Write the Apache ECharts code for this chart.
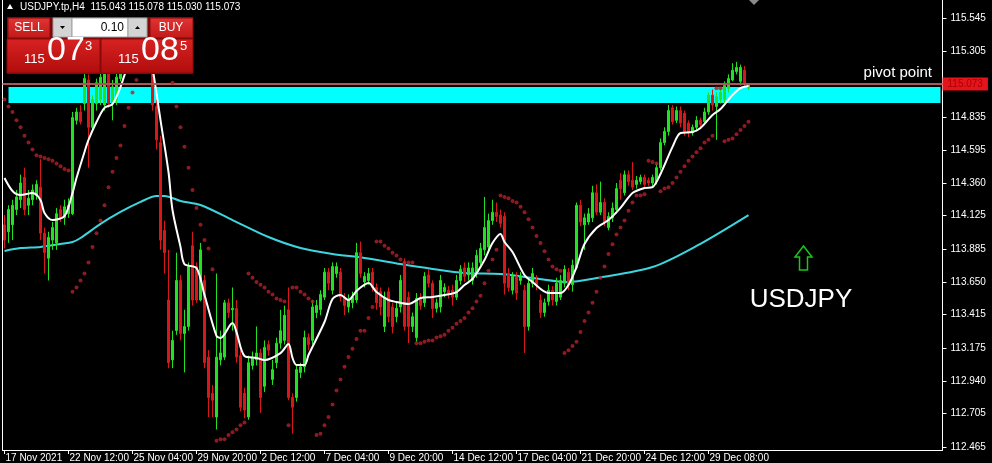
<!DOCTYPE html>
<html><head><meta charset="utf-8">
<script src="https://cdn.jsdelivr.net/npm/echarts/dist/echarts.min.js"></script>
<style>html,body{margin:0;padding:0;background:#000;}#c{width:992px;height:463px;}</style>
</head><body><div id="c"></div>
<script>
const xTickLabels = ['17 Nov 2021','22 Nov 12:00','25 Nov 04:00','29 Nov 20:00','2 Dec 12:00','7 Dec 04:00','9 Dec 20:00','14 Dec 12:00','17 Dec 04:00','21 Dec 20:00','24 Dec 12:00','29 Dec 08:00'];
const yTickValues = [112.465,112.705,112.940,113.175,113.415,113.650,113.885,114.125,114.360,114.595,114.835,115.305,115.545];

const opens = [114.06,114.01,114.06,114.17,114.24,114.40,114.20,114.24,114.27,114.33,
114.00,113.82,113.95,113.93,114.17,114.11,114.14,114.14,114.81,114.87,
114.93,115.10,114.76,114.93,114.96,114.92,115.15,114.93,114.96,115.11,
115.21,115.32,115.24,115.35,115.42,115.33,115.40,115.24,114.91,114.65,
114.02,113.52,113.09,113.30,113.66,113.28,113.33,113.91,113.76,113.52,
113.66,113.11,112.85,112.68,113.09,113.11,113.50,113.45,113.46,113.12,
112.85,112.68,113.05,113.09,113.14,112.90,113.20,112.95,113.07,113.21,
113.23,113.45,112.82,112.82,113.00,113.04,113.25,113.23,113.43,113.45,
113.54,113.72,113.59,113.71,113.72,113.54,113.47,113.50,113.52,113.86,
113.65,113.66,113.72,113.61,113.58,113.33,113.58,113.47,113.40,113.47,
113.79,113.54,113.33,113.25,113.53,113.50,113.70,113.64,113.46,113.47,
113.58,113.59,113.59,113.54,113.66,113.75,113.70,113.66,113.71,113.79,
113.88,113.90,114.09,114.15,114.13,114.12,113.71,113.59,113.69,113.66,
113.59,113.33,113.64,113.66,113.52,113.43,113.51,113.59,113.51,113.54,
113.64,113.72,113.63,113.75,114.20,114.06,114.08,114.11,114.29,114.15,
114.22,114.04,114.11,114.17,114.38,114.29,114.42,114.38,114.35,114.37,
114.40,114.38,114.36,114.37,114.47,114.65,114.73,114.90,114.81,114.88,
114.86,114.79,114.72,114.76,114.81,114.80,114.87,114.99,114.91,114.96,
114.96,115.04,115.10,115.16,115.09,115.17,115.043];

const closes = [113.95,114.17,114.20,114.26,114.36,114.17,114.25,114.31,114.35,114.00,
113.86,113.97,114.04,114.14,114.11,114.19,114.20,114.83,114.87,114.80,
115.11,114.76,114.96,115.08,115.12,115.15,114.93,115.05,115.12,115.23,
115.32,115.24,115.37,115.42,115.33,115.40,115.28,114.92,114.67,113.95,
113.86,113.07,113.23,113.66,113.28,113.33,113.76,113.52,113.52,113.88,
113.07,112.82,112.80,113.11,113.14,113.50,113.43,113.46,113.11,112.75,
112.73,113.07,113.11,113.14,112.82,113.18,113.16,113.02,113.21,113.30,
113.41,112.82,112.75,113.02,113.04,113.25,113.20,113.47,113.48,113.56,
113.72,113.64,113.76,113.76,113.54,113.48,113.52,113.54,113.86,113.71,
113.69,113.71,113.61,113.50,113.47,113.54,113.40,113.33,113.46,113.66,
113.33,113.33,113.40,113.53,113.48,113.69,113.64,113.46,113.50,113.66,
113.61,113.57,113.54,113.66,113.74,113.69,113.75,113.75,113.84,113.89,
114.04,114.09,114.15,114.12,114.07,113.64,113.61,113.69,113.57,113.69,
113.33,113.64,113.71,113.63,113.43,113.50,113.59,113.52,113.64,113.66,
113.74,113.63,113.77,114.20,114.08,114.11,114.14,114.29,114.15,114.22,
114.08,114.12,114.18,114.32,114.32,114.42,114.37,114.33,114.38,114.40,
114.35,114.36,114.40,114.47,114.65,114.73,114.88,114.80,114.88,114.79,
114.73,114.72,114.76,114.81,114.78,114.87,114.99,114.92,114.98,115.01,
115.06,115.11,115.17,115.19,115.19,115.07,115.073];

const lows = [113.89,113.93,113.95,114.13,114.18,114.13,114.13,114.20,114.24,113.95,
113.71,113.66,113.88,113.88,114.08,114.06,114.11,114.13,114.78,114.78,
114.88,114.47,114.74,114.88,114.92,114.88,114.90,114.81,114.92,115.09,
115.17,115.19,115.21,115.32,115.28,115.28,115.24,114.88,114.60,113.88,
113.71,113.03,113.03,113.27,113.23,113.00,113.30,113.48,113.50,113.51,
113.03,112.68,112.68,112.59,113.05,113.09,113.39,113.30,113.07,112.72,
112.67,112.66,113.02,113.05,112.71,112.86,113.12,112.91,113.03,113.17,
113.20,112.80,112.56,112.79,112.96,113.00,113.16,113.20,113.39,113.41,
113.52,113.59,113.56,113.68,113.51,113.41,113.43,113.46,113.50,113.68,
113.61,113.63,113.58,113.45,113.41,113.29,113.36,113.28,113.36,113.43,
113.30,113.21,113.29,113.22,113.45,113.47,113.61,113.39,113.43,113.43,
113.54,113.53,113.48,113.52,113.63,113.65,113.66,113.63,113.68,113.77,
113.84,113.88,114.06,114.08,114.04,113.56,113.58,113.56,113.52,113.63,
113.14,113.30,113.61,113.59,113.39,113.40,113.48,113.48,113.48,113.52,
113.61,113.59,113.58,113.74,114.05,113.88,114.06,114.08,114.13,114.13,
114.05,114.02,114.08,114.14,114.24,114.27,114.34,114.31,114.32,114.35,
114.32,114.34,114.34,114.35,114.45,114.63,114.70,114.78,114.79,114.76,
114.70,114.69,114.70,114.73,114.76,114.78,114.85,114.88,114.67,114.93,
114.92,115.01,115.09,115.14,115.06,115.05,115.030];

const highs = [114.13,114.20,114.24,114.31,114.42,114.47,114.31,114.35,114.38,114.53,
114.04,114.01,114.08,114.18,114.20,114.24,114.25,114.87,114.90,114.92,
115.17,115.14,114.99,115.11,115.16,115.19,115.17,115.10,115.17,115.28,
115.37,115.39,115.42,115.49,115.47,115.46,115.44,115.30,114.96,114.70,
114.09,113.88,113.30,113.86,113.70,113.45,113.79,114.01,113.79,113.93,
113.70,113.16,112.91,113.71,113.30,113.52,113.53,113.61,113.52,113.16,
112.89,113.12,113.15,113.33,113.17,113.23,113.23,113.09,113.25,113.45,
113.48,113.61,112.85,113.05,113.07,113.30,113.28,113.52,113.52,113.59,
113.75,113.75,113.79,113.79,113.75,113.57,113.56,113.58,113.93,113.94,
113.72,113.75,113.75,113.64,113.61,113.58,113.61,113.50,113.50,113.70,
113.82,113.58,113.43,113.57,113.57,113.72,113.74,113.66,113.53,113.70,
113.64,113.62,113.63,113.70,113.77,113.79,113.79,113.79,113.88,113.93,
114.26,114.14,114.24,114.22,114.17,114.15,113.75,113.72,113.72,113.72,
113.63,113.68,113.75,113.70,113.56,113.53,113.63,113.62,113.68,113.70,
113.77,113.75,113.81,114.22,114.24,114.14,114.18,114.34,114.35,114.37,
114.25,114.15,114.22,114.36,114.43,114.45,114.45,114.51,114.41,114.42,
114.42,114.40,114.42,114.50,114.68,114.76,114.92,114.92,114.91,114.91,
114.88,114.81,114.78,114.84,114.83,114.90,115.01,115.03,115.01,115.04,
115.09,115.14,115.22,115.23,115.21,115.20,115.078];

const sar = [114.96,114.91,114.87,114.81,114.76,114.70,114.65,114.60,114.56,114.55,
114.54,114.53,114.52,114.50,114.48,114.46,114.45,113.58,113.61,113.66,
113.71,113.79,113.90,114.00,114.09,114.20,114.33,114.44,114.54,114.63,
114.77,114.90,115.01,115.10,115.19,115.27,115.33,115.49,115.46,115.40,
115.32,115.21,115.08,114.91,114.76,114.62,114.47,114.31,114.18,114.06,
113.95,113.89,113.74,112.51,112.52,112.52,112.55,112.57,112.59,112.62,
112.64,113.71,113.68,113.65,113.63,113.61,113.58,113.56,113.53,113.52,
113.51,112.62,113.61,113.61,113.58,113.56,113.53,113.51,112.55,112.56,
112.62,112.68,112.77,112.87,112.95,113.04,113.11,113.17,113.24,113.30,
113.30,113.39,113.47,113.94,113.94,113.91,113.89,113.86,113.84,113.81,
113.79,113.79,113.79,113.21,113.21,113.22,113.23,113.23,113.25,113.26,
113.27,113.30,113.32,113.35,113.37,113.39,113.43,113.46,113.51,113.55,
113.64,113.73,113.81,113.88,114.27,114.26,114.25,114.23,114.22,114.19,
114.15,114.10,114.04,113.98,113.93,113.87,113.81,113.76,113.74,113.73,
113.14,113.16,113.19,113.22,113.29,113.37,113.43,113.50,113.58,113.68,
113.76,113.85,113.92,113.99,114.04,114.09,114.16,114.22,114.27,114.27,
114.28,114.52,114.51,114.50,114.30,114.32,114.33,114.36,114.40,114.44,
114.48,114.52,114.55,114.58,114.61,114.65,114.67,114.70,115.04,115.04,
114.66,114.67,114.68,114.71,114.74,114.77,114.80];

const maFast = [[0,114.396],[2,114.303],[4,114.274],[7,114.288],[9,114.238],[10,114.145],[12,114.094],[15,114.123],[17,114.288],[18,114.396],[20,114.583],[21,114.669],[23,114.798],[25,114.899],[27,114.927],[29,115.049],[30,115.135],[32,115.279],[34,115.351],[36,115.301],[37,115.186],[39,114.812],[41,114.439],[42,114.166],[44,113.901],[45,113.778],[48,113.750],[50,113.556],[53,113.262],[54,113.247],[57,113.355],[58,113.290],[60,113.118],[63,113.104],[65,113.089],[69,113.139],[71,113.204],[72,113.104],[73,113.053],[75,113.053],[76,113.125],[80,113.362],[82,113.527],[84,113.556],[86,113.520],[88,113.585],[91,113.642],[93,113.577],[96,113.520],[98,113.506],[101,113.491],[104,113.534],[107,113.542],[110,113.556],[113,113.577],[115,113.628],[117,113.671],[120,113.807],[122,113.929],[124,113.994],[125,113.936],[127,113.865],[130,113.699],[132,113.649],[136,113.570],[139,113.570],[141,113.628],[143,113.757],[145,113.922],[148,114.037],[151,114.094],[154,114.181],[157,114.288],[160,114.324],[162,114.331],[164,114.425],[167,114.619],[169,114.719],[172,114.726],[174,114.755],[177,114.848],[179,114.891],[182,114.992],[184,115.042],[186,115.057]];

const maSlow = [[0,113.872],[4,113.893],[9,113.901],[14,113.922],[17,113.936],[19,113.965],[24,114.066],[29,114.152],[34,114.224],[38,114.267],[40,114.267],[44,114.231],[49,114.202],[57,114.094],[66,113.972],[74,113.893],[82,113.850],[90,113.822],[99,113.778],[107,113.743],[115,113.714],[124,113.706],[132,113.678],[141,113.649],[148,113.678],[162,113.757],[173,113.908],[186,114.130]];

const pivotBand = [114.934, 115.049];
const bidPrice = 115.073;
const bidLabel = '115.073';
const ohlcHeader = ['115.043','115.078','115.030','115.073'];
const symbolTitle = 'USDJPY.tp,H4';
const sellPrice = ['115', '07', '3'];
const buyPrice = ['115', '08', '5'];
const lotSize = '0.10';

const N = 235;
const cats = [];
for (let i = 0; i < N; i++) cats.push(String(i));
const candleData = opens.map((o, i) => [o, closes[i], lows[i], highs[i]]);
const sarData = sar.map((v, i) => [i, v]);

const FONT = '"Liberation Sans", Arial, sans-serif';
const chart = echarts.init(document.getElementById('c'));
const showTick = (i) => i % 16 === 0 && i / 16 < xTickLabels.length;

const redGrad = (a, b) => ({type:'linear', x:0, y:0, x2:0, y2:1, colorStops:[{offset:0,color:a},{offset:1,color:b}]});

const option = {
  backgroundColor: '#000',
  animation: false,
  grid: {left: 2.5, right: 49.5, top: 0, bottom: 13},
  xAxis: {
    type: 'category', data: cats, boundaryGap: true,
    axisLine: {lineStyle: {color: '#fff', width: 1}},
    axisTick: {show: true, alignWithLabel: true, length: 4, interval: showTick, lineStyle: {color: '#fff'}},
    axisLabel: {interval: showTick, formatter: (v, i) => xTickLabels[i / 16], color: '#fff', fontSize: 10, fontFamily: FONT, align: 'left', margin: 3, padding: [0, 0, 0, 1]},
    splitLine: {show: false}
  },
  yAxis: [{
    type: 'value', position: 'right', min: 112.443, max: 115.674,
    axisLine: {show: true, lineStyle: {color: '#fff'}},
    axisTick: {show: true, length: 4, customValues: yTickValues, lineStyle: {color: '#fff'}},
    axisLabel: {customValues: yTickValues, formatter: (v) => v.toFixed(3), color: '#fff', fontSize: 10, fontFamily: FONT, margin: 8},
    splitLine: {show: false}
  }, {
    type: 'value', position: 'left', min: 112.443, max: 115.674,
    axisLine: {show: true, lineStyle: {color: '#fff'}},
    axisTick: {show: false}, axisLabel: {show: false}, splitLine: {show: false}
  }],
  series: [
    {
      type: 'line', data: [], z: 1, silent: true,
      markArea: {silent: true, itemStyle: {color: '#00ffff', opacity: 1},
        data: [[{xAxis: '1', yAxis: pivotBand[1]}, {xAxis: '234', yAxis: pivotBand[0]}]]},
      markLine: {silent: true, symbol: 'none', animation: false,
        lineStyle: {color: '#a85858', width: 2, type: 'solid'},
        label: {show: true, position: 'end', formatter: bidLabel, backgroundColor: '#e4141c', color: '#a80000', fontSize: 10, fontFamily: FONT, padding: [2, 5, 1, 5], distance: 0},
        data: [{yAxis: bidPrice}]}
    },
    {type: 'line', data: maSlow, z: 2, symbol: 'none', smooth: 0.3, lineStyle: {color: '#3cd6de', width: 2}, silent: true},
    {type: 'candlestick', data: candleData, z: 3, barWidth: 2, silent: true,
      itemStyle: {color: '#22e022', color0: '#d81818', borderColor: '#22e022', borderColor0: '#d81818', borderWidth: 1}},
    {type: 'line', data: maFast, z: 4, symbol: 'none', smooth: 0.3, lineStyle: {color: '#ffffff', width: 2}, silent: true},
    {type: 'scatter', data: sarData, z: 5, symbol: 'circle', symbolSize: 4, itemStyle: {color: '#b4202a'}, silent: true}
  ],
  graphic: [
    {type: 'polygon', shape: {points: [[7, 9], [10, 4], [13, 9]]}, style: {fill: '#fff'}, z: 100},
    {type: 'text', left: 20, top: 2, style: {text: symbolTitle + '  ' + ohlcHeader.join(' '), fill: '#fff', font: '10px ' + FONT}, z: 100},
    {type: 'polygon', shape: {points: [[749, 0], [759, 0], [754, 5]]}, style: {fill: '#8a8a8a'}, z: 100},
    // trade panel
    {type: 'rect', shape: {x: 7, y: 17, width: 186, height: 57}, style: {fill: '#7a0808'}, z: 100},
    {type: 'rect', shape: {x: 8, y: 18, width: 42, height: 20}, style: {fill: redGrad('#e23434', '#c01818'), stroke: '#8a0a0a', lineWidth: 1}, z: 101},
    {type: 'text', x: 29, y: 28, style: {text: 'SELL', fill: '#fff', font: '12px ' + FONT, align: 'center', verticalAlign: 'middle'}, z: 102},
    {type: 'rect', shape: {x: 53, y: 18, width: 19, height: 19}, style: {fill: '#d4d4d4', stroke: '#a0a0a0'}, z: 101},
    {type: 'polygon', shape: {points: [[60, 26], [65, 26], [62.5, 29]]}, style: {fill: '#000'}, z: 102},
    {type: 'rect', shape: {x: 72, y: 18, width: 56, height: 19}, style: {fill: '#fff', stroke: '#a0a0a0'}, z: 101},
    {type: 'text', x: 124, y: 28, style: {text: lotSize, fill: '#000', font: '12px ' + FONT, align: 'right', verticalAlign: 'middle'}, z: 102},
    {type: 'rect', shape: {x: 128, y: 18, width: 19, height: 19}, style: {fill: '#d4d4d4', stroke: '#a0a0a0'}, z: 101},
    {type: 'polygon', shape: {points: [[135, 29], [140, 29], [137.5, 26]]}, style: {fill: '#000'}, z: 102},
    {type: 'rect', shape: {x: 150, y: 18, width: 43, height: 20}, style: {fill: redGrad('#e23434', '#c01818'), stroke: '#8a0a0a', lineWidth: 1}, z: 101},
    {type: 'text', x: 171, y: 28, style: {text: 'BUY', fill: '#fff', font: '12px ' + FONT, align: 'center', verticalAlign: 'middle'}, z: 102},
    {type: 'rect', shape: {x: 7, y: 39, width: 93, height: 34}, style: {fill: redGrad('#d82222', '#b00c0c'), stroke: '#8a0a0a'}, z: 101},
    {type: 'rect', shape: {x: 101, y: 39, width: 92, height: 34}, style: {fill: redGrad('#d82222', '#b00c0c'), stroke: '#8a0a0a'}, z: 101},
    {type: 'text', x: 24, y: 66, style: {text: sellPrice[0], fill: '#fff', font: '13px ' + FONT, verticalAlign: 'bottom'}, z: 102},
    {type: 'text', x: 47, y: 68, style: {text: sellPrice[1], fill: '#fff', font: '34px ' + FONT, verticalAlign: 'bottom'}, z: 102},
    {type: 'text', x: 85, y: 53, style: {text: sellPrice[2], fill: '#fff', font: '13px ' + FONT, verticalAlign: 'bottom'}, z: 102},
    {type: 'text', x: 118, y: 66, style: {text: buyPrice[0], fill: '#fff', font: '13px ' + FONT, verticalAlign: 'bottom'}, z: 102},
    {type: 'text', x: 141, y: 68, style: {text: buyPrice[1], fill: '#fff', font: '34px ' + FONT, verticalAlign: 'bottom'}, z: 102},
    {type: 'text', x: 180, y: 53, style: {text: buyPrice[2], fill: '#fff', font: '13px ' + FONT, verticalAlign: 'bottom'}, z: 102},
    // annotations
    {type: 'text', x: 932, y: 73, style: {text: 'pivot point', fill: '#fff', font: '15px ' + FONT, align: 'right', verticalAlign: 'middle'}, z: 100},
    {type: 'text', x: 801, y: 300, style: {text: 'USDJPY', fill: '#fff', font: '26px ' + FONT, align: 'center', verticalAlign: 'middle'}, z: 100},
    {type: 'polygon', shape: {points: [[803.5, 246], [812, 257], [807.5, 257], [807.5, 270], [799.5, 270], [799.5, 257], [795, 257]]}, style: {fill: 'none', stroke: '#18c818', lineWidth: 1.5}, z: 100}
  ]
};
chart.setOption(option);
</script>
</body></html>
